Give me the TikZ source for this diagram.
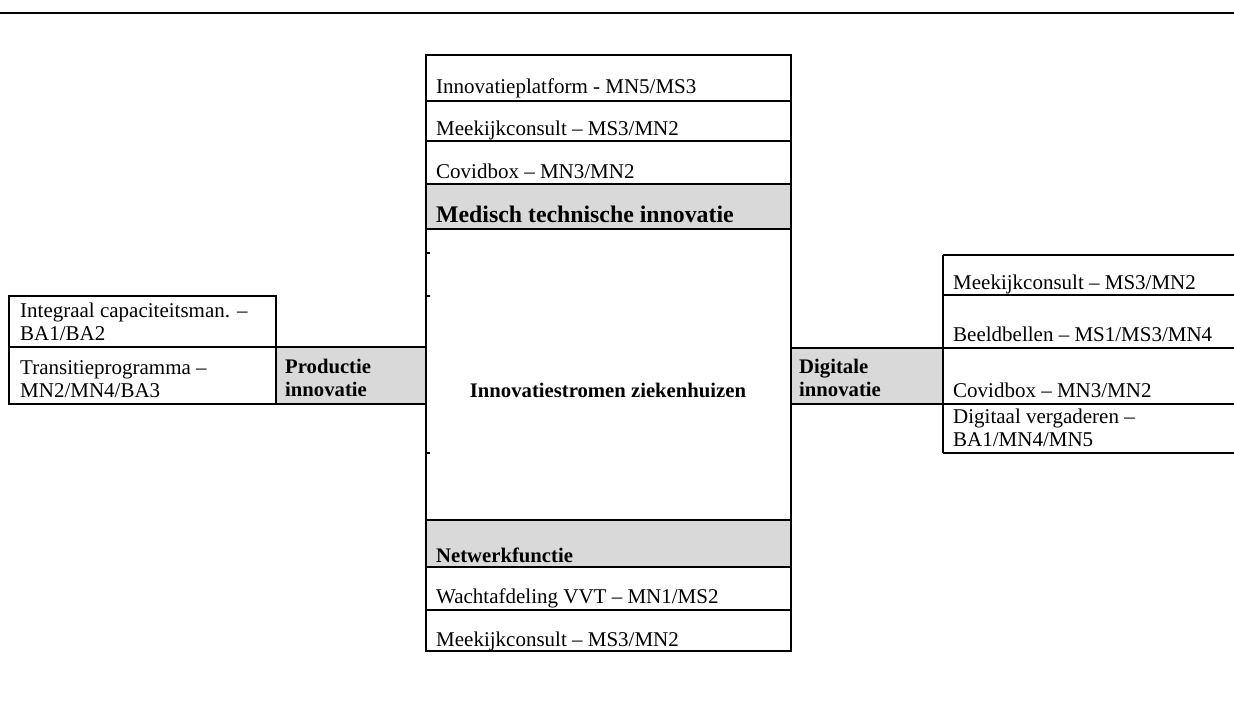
\documentclass[tikz,border=0pt]{standalone}
\usepackage{fontspec}
\setmainfont{Liberation Serif}
\tikzset{rij/.style = {line width=2pt},
         rand/.style = {line width=1.2pt},
         kop/.style = {fill=black!15},
         txt/.style = {anchor=base west, inner sep=0pt, align=left, font=\fontsize{21}{20}\selectfont},
         btxt/.style = {txt, font=\fontsize{20.7}{20}\selectfont\bfseries}}

\begin{document}
\begin{tikzpicture}[x=1pt, y=-1pt]
\useasboundingbox (0,0) rectangle (1234,724);

\draw[line width=2.5pt] (0,13) -- (1234,13);

\fill[kop] (426,184) rectangle (791,229);
\fill[kop] (426,520) rectangle (791,567);
\fill[kop] (276,347) rectangle (426,404);
\fill[kop] (791,348) rectangle (943,404);

\draw[rand] (426,55) rectangle (791,651);
\draw[rij] (426,55) -- (791,55);
\draw[rij] (426,101) -- (791,101);
\draw[rij] (426,141) -- (791,141);
\draw[rij] (426,184) -- (791,184);
\draw[rij] (426,229) -- (791,229);
\draw[rij] (426,520) -- (791,520);
\draw[rij] (426,567) -- (791,567);
\draw[rij] (426,610) -- (791,610);
\draw[rij] (426,651) -- (791,651);
\draw[rand] (426,253) -- (430,253);
\draw[rand] (426,296) -- (430,296);
\draw[rand] (426,453) -- (430,453);

\draw[rand] (9,296) rectangle (276,404);
\draw[rij] (9,296) -- (276,296);
\draw[rij] (9,347) -- (426,347);
\draw[rij] (9,404) -- (426,404);

\draw[rand] (943,255) -- (943,453);
\draw[rij] (943,255) -- (1234,255);
\draw[rij] (943,295) -- (1234,295);
\draw[rij] (791,348) -- (1234,348);
\draw[rij] (791,404) -- (1234,404);
\draw[rij] (943,453) -- (1234,453);

\node[txt] (platform) at (436,93) {Innovatieplatform - MN5/MS3};
\node[txt] (meekijkA) at (436,135) {Meekijkconsult – MS3/MN2};
\node[txt] (covidA) at (436,178) {Covidbox – MN3/MN2};
\node[btxt, font=\fontsize{23.8}{24}\selectfont\bfseries] (medisch) at (436,222) {Medisch technische innovatie};
\node[btxt, anchor=base] (stromen) at (608,397) {Innovatiestromen ziekenhuizen};
\node[btxt] (netwerk) at (436,562) {Netwerkfunctie};
\node[txt] (wacht) at (436,603) {Wachtafdeling VVT – MN1/MS2};
\node[txt] (meekijkB) at (436,646) {Meekijkconsult – MS3/MN2};

\node[txt] (capaciteit) at (20,340) {Integraal capaciteitsman. –\\[2.5pt]BA1/BA2};
\node[txt] (transitie) at (20,397) {Transitieprogramma –\\[2.5pt]MN2/MN4/BA3};
\node[btxt] (productie) at (285,396) {Productie\\[2.5pt]innovatie};

\node[btxt] (digitaal) at (799,396) {Digitale\\[2.5pt]innovatie};
\node[txt] (meekijkC) at (953,289) {Meekijkconsult – MS3/MN2};
\node[txt] (beeld) at (953,341) {Beeldbellen – MS1/MS3/MN4};
\node[txt] (covidB) at (953,397) {Covidbox – MN3/MN2};
\node[txt] (vergaderen) at (953,446) {Digitaal vergaderen –\\[2.5pt]BA1/MN4/MN5};

\end{tikzpicture}
\end{document}
